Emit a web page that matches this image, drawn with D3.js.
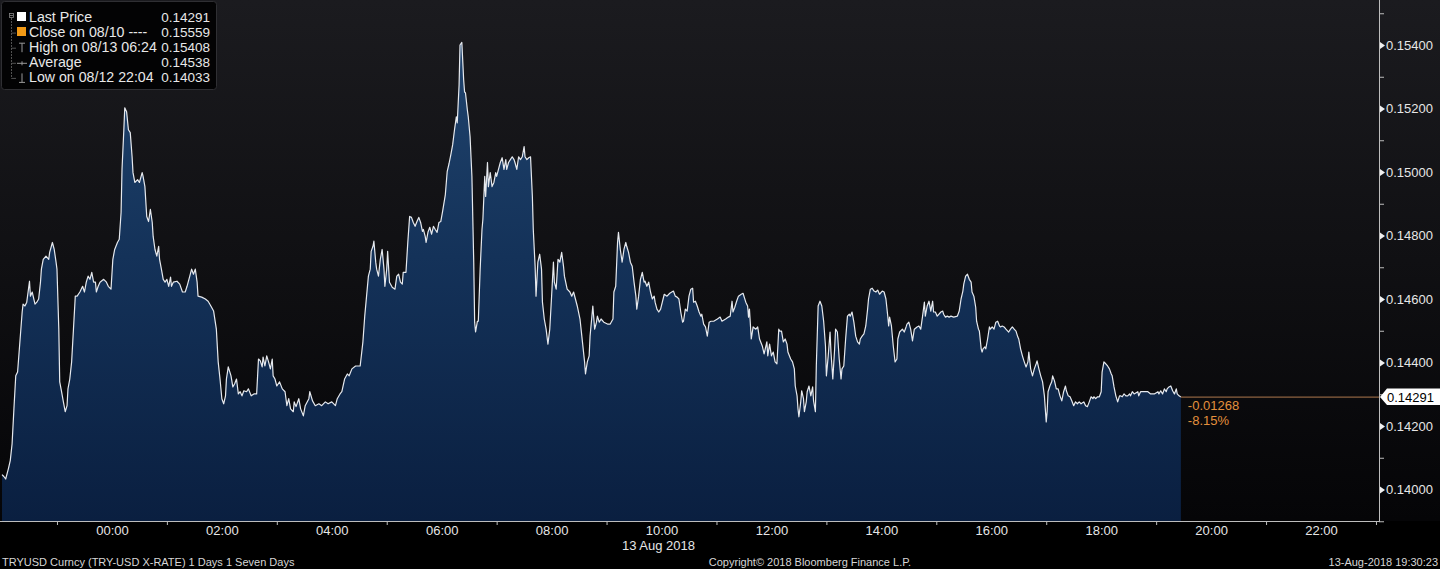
<!DOCTYPE html>
<html><head><meta charset="utf-8">
<script src="https://cdn.jsdelivr.net/npm/d3@7/dist/d3.min.js"></script>
<style>html,body{margin:0;padding:0;background:#000;overflow:hidden}text{font-family:"Liberation Sans",Arial,sans-serif}</style>
</head><body>
<svg id="c" width="1440" height="569"></svg>
<script>
// minutes after 2018-08-12 22:00 (local), TRYUSD price
const minutes = [0,2,4,7,9,11,13,15,17,22,23,25,27,30,31,33,34,36,38,40,42,43,45,48,51,52,55,57,59,60,62,63,65,67,69,71,72,74,76,78,80,82,85,88,90,92,94,96,98,100,102,103,105,107,111,114,116,119,121,123,126,128,130,131,133,134,136,138,140,142,143,145,148,150,153,154,156,158,160,162,164,165,167,169,171,172,174,176,178,180,182,184,185,187,191,194,197,200,202,205,207,209,211,213,214,218,222,225,228,231,234,236,238,240,242,244,245,247,250,252,254,256,258,260,262,264,267,269,272,275,278,280,282,284,285,287,289,291,293,295,296,298,300,303,306,309,311,313,315,318,319,321,324,326,329,331,335,336,339,342,346,349,353,356,360,364,366,369,371,374,377,379,382,386,391,394,396,398,400,402,403,405,406,408,409,411,413,415,417,418,420,421,423,426,429,431,433,435,437,438,441,443,445,447,449,451,453,455,457,459,460,462,463,465,467,469,471,473,475,477,479,481,484,486,488,490,492,494,496,497,499,500,502,504,505,506,508,509,511,513,515,516,517,519,520,522,524,525,527,528,530,531,533,535,537,539,540,542,544,546,548,550,551,553,555,557,559,560,562,564,566,568,570,571,573,575,577,579,580,582,583,585,587,589,590,592,594,596,598,600,602,603,605,607,609,611,613,614,617,620,622,624,626,628,631,633,636,637,639,641,642,644,645,647,649,650,652,654,657,661,664,667,668,670,672,673,675,677,679,681,682,684,686,688,690,692,693,695,697,699,701,702,704,706,708,710,712,713,715,717,719,723,726,729,733,735,737,739,741,743,744,746,748,750,752,754,755,757,759,761,763,764,766,768,770,772,774,777,781,784,786,790,793,795,797,798,800,802,804,807,809,812,814,815,816,818,820,823,825,827,830,832,835,836,838,840,842,844,846,848,849,851,853,855,857,858,861,863,865,866,868,869,870,872,873,875,876,878,879,881,883,885,886,888,889,891,893,895,897,899,900,902,904,905,907,909,910,912,914,916,917,919,921,923,925,926,928,930,932,934,936,937,939,941,943,945,946,948,950,952,954,956,958,961,963,965,967,968,969,971,973,975,977,978,980,983,985,987,988,990,992,994,996,999,1001,1003,1005,1007,1008,1010,1012,1014,1016,1017,1019,1021,1025,1027,1028,1030,1032,1034,1036,1039,1043,1045,1047,1049,1050,1052,1054,1056,1058,1059,1061,1063,1064,1066,1067,1069,1070,1071,1073,1074,1076,1078,1079,1081,1083,1085,1087,1089,1090,1092,1094,1096,1098,1099,1101,1103,1105,1107,1109,1110,1112,1114,1116,1118,1120,1121,1123,1125,1127,1129,1130,1132,1134,1136,1138,1140,1141,1142,1144,1146,1147,1149,1151,1153,1155,1157,1159,1161,1162,1164,1166,1168,1170,1172,1174,1176,1178,1181,1183,1185,1187,1189,1191,1192,1194,1196,1198,1200,1201,1203,1205,1207,1209,1211,1212,1214,1216,1218,1220,1221,1223,1225,1227,1229,1231,1232,1234,1236,1240,1241,1243,1247,1251,1254,1258,1262,1263,1265,1267,1269,1271,1272,1274,1276,1278,1280,1282,1283,1285,1287];
const prices = [0.14047,0.14041,0.14033,0.14066,0.14091,0.14144,0.14254,0.14358,0.14370,0.14559,0.14584,0.14578,0.14590,0.14656,0.14609,0.14622,0.14609,0.14584,0.14590,0.14600,0.14653,0.14694,0.14725,0.14735,0.14725,0.14747,0.14778,0.14756,0.14716,0.14694,0.14505,0.14339,0.14308,0.14276,0.14245,0.14264,0.14317,0.14348,0.14402,0.14505,0.14609,0.14609,0.14622,0.14640,0.14622,0.14653,0.14672,0.14662,0.14684,0.14653,0.14653,0.14622,0.14640,0.14653,0.14662,0.14653,0.14640,0.14631,0.14725,0.14756,0.14778,0.14788,0.14873,0.15008,0.15133,0.15202,0.15190,0.15133,0.15124,0.15048,0.14998,0.14967,0.14976,0.14967,0.14998,0.14986,0.14954,0.14860,0.14844,0.14882,0.14841,0.14797,0.14756,0.14735,0.14766,0.14725,0.14694,0.14662,0.14653,0.14662,0.14640,0.14669,0.14640,0.14653,0.14656,0.14647,0.14622,0.14622,0.14640,0.14672,0.14694,0.14678,0.14694,0.14653,0.14609,0.14606,0.14600,0.14593,0.14578,0.14562,0.14505,0.14402,0.14348,0.14286,0.14270,0.14295,0.14348,0.14386,0.14358,0.14323,0.14333,0.14348,0.14301,0.14308,0.14295,0.14311,0.14308,0.14317,0.14295,0.14301,0.14301,0.14411,0.14405,0.14386,0.14417,0.14389,0.14421,0.14402,0.14380,0.14411,0.14358,0.14348,0.14326,0.14339,0.14317,0.14308,0.14264,0.14286,0.14254,0.14245,0.14276,0.14261,0.14286,0.14254,0.14232,0.14264,0.14286,0.14308,0.14279,0.14264,0.14270,0.14264,0.14276,0.14270,0.14276,0.14264,0.14286,0.14301,0.14308,0.14348,0.14364,0.14358,0.14380,0.14389,0.14389,0.14465,0.14546,0.14609,0.14672,0.14694,0.14750,0.14766,0.14782,0.14716,0.14694,0.14672,0.14725,0.14756,0.14694,0.14640,0.14694,0.14750,0.14653,0.14637,0.14631,0.14672,0.14678,0.14653,0.14647,0.14684,0.14684,0.14778,0.14860,0.14857,0.14841,0.14829,0.14844,0.14857,0.14841,0.14813,0.14819,0.14797,0.14778,0.14810,0.14826,0.14804,0.14829,0.14819,0.14810,0.14841,0.14844,0.14876,0.14929,0.15001,0.15026,0.15055,0.15086,0.15133,0.15174,0.15155,0.15274,0.15400,0.15408,0.15290,0.15252,0.15249,0.15196,0.15174,0.15111,0.14986,0.14716,0.14527,0.14496,0.14530,0.14530,0.14694,0.14819,0.14851,0.14986,0.14923,0.15030,0.14954,0.14998,0.14954,0.14967,0.14998,0.14986,0.15008,0.15030,0.15045,0.15008,0.15039,0.15008,0.15030,0.15039,0.15048,0.15039,0.15030,0.15008,0.15048,0.15039,0.15048,0.15080,0.15048,0.15039,0.15045,0.15048,0.14923,0.14819,0.14703,0.14609,0.14716,0.14741,0.14694,0.14590,0.14537,0.14505,0.14458,0.14505,0.14609,0.14716,0.14653,0.14631,0.14725,0.14716,0.14747,0.14703,0.14672,0.14631,0.14622,0.14609,0.14622,0.14600,0.14578,0.14537,0.14483,0.14402,0.14364,0.14402,0.14421,0.14483,0.14546,0.14578,0.14505,0.14527,0.14546,0.14527,0.14537,0.14527,0.14521,0.14521,0.14537,0.14622,0.14640,0.14778,0.14810,0.14756,0.14716,0.14756,0.14778,0.14766,0.14747,0.14716,0.14703,0.14653,0.14609,0.14568,0.14609,0.14662,0.14684,0.14653,0.14656,0.14640,0.14653,0.14622,0.14600,0.14609,0.14590,0.14568,0.14559,0.14568,0.14615,0.14609,0.14618,0.14625,0.14609,0.14606,0.14600,0.14559,0.14527,0.14530,0.14568,0.14562,0.14609,0.14631,0.14634,0.14590,0.14593,0.14578,0.14559,0.14546,0.14552,0.14521,0.14512,0.14483,0.14527,0.14530,0.14530,0.14537,0.14543,0.14530,0.14537,0.14543,0.14546,0.14593,0.14559,0.14574,0.14593,0.14609,0.14615,0.14618,0.14590,0.14578,0.14543,0.14568,0.14474,0.14512,0.14505,0.14512,0.14474,0.14452,0.14427,0.14465,0.14421,0.14458,0.14421,0.14433,0.14402,0.14396,0.14505,0.14499,0.14499,0.14465,0.14474,0.14458,0.14433,0.14411,0.14402,0.14380,0.14326,0.14295,0.14254,0.14229,0.14276,0.14311,0.14286,0.14245,0.14276,0.14308,0.14326,0.14295,0.14323,0.14279,0.14245,0.14389,0.14578,0.14593,0.14578,0.14530,0.14452,0.14358,0.14421,0.14496,0.14433,0.14348,0.14443,0.14505,0.14496,0.14411,0.14348,0.14380,0.14389,0.14474,0.14546,0.14552,0.14546,0.14559,0.14527,0.14483,0.14465,0.14458,0.14474,0.14483,0.14490,0.14515,0.14568,0.14600,0.14631,0.14634,0.14625,0.14622,0.14628,0.14615,0.14625,0.14622,0.14600,0.14546,0.14515,0.14543,0.14515,0.14452,0.14402,0.14411,0.14474,0.14496,0.14505,0.14496,0.14512,0.14521,0.14527,0.14505,0.14468,0.14505,0.14512,0.14515,0.14505,0.14546,0.14590,0.14546,0.14578,0.14593,0.14562,0.14593,0.14559,0.14559,0.14546,0.14559,0.14562,0.14552,0.14543,0.14546,0.14543,0.14546,0.14543,0.14546,0.14562,0.14600,0.14625,0.14647,0.14672,0.14678,0.14662,0.14653,0.14622,0.14609,0.14574,0.14530,0.14505,0.14499,0.14443,0.14433,0.14443,0.14449,0.14443,0.14474,0.14512,0.14505,0.14512,0.14505,0.14527,0.14530,0.14515,0.14512,0.14515,0.14512,0.14505,0.14499,0.14496,0.14505,0.14512,0.14505,0.14499,0.14480,0.14474,0.14443,0.14421,0.14402,0.14386,0.14402,0.14433,0.14380,0.14358,0.14380,0.14396,0.14405,0.14380,0.14358,0.14339,0.14295,0.14213,0.14245,0.14308,0.14326,0.14339,0.14358,0.14342,0.14317,0.14317,0.14295,0.14279,0.14308,0.14326,0.14311,0.14295,0.14292,0.14279,0.14264,0.14276,0.14270,0.14276,0.14270,0.14276,0.14264,0.14261,0.14276,0.14292,0.14286,0.14292,0.14286,0.14292,0.14292,0.14308,0.14370,0.14402,0.14396,0.14389,0.14380,0.14364,0.14358,0.14323,0.14295,0.14276,0.14295,0.14295,0.14292,0.14301,0.14295,0.14295,0.14301,0.14295,0.14308,0.14301,0.14308,0.14295,0.14308,0.14308,0.14308,0.14301,0.14301,0.14308,0.14301,0.14311,0.14301,0.14317,0.14308,0.14317,0.14323,0.14326,0.14311,0.14301,0.14317,0.14301,0.14295,0.14291];

const majorTicks = [0.140,0.142,0.144,0.146,0.148,0.150,0.152,0.154];
const minorTicks = [0.139,0.141,0.143,0.145,0.147,0.149,0.151,0.153,0.155];
const legendLabels = ["Last Price","Close on 08/10 ----","High on 08/13 06:24","Average","Low on 08/12 22:04"];
const legendValues = ["0.14291","0.15559","0.15408","0.14538","0.14033"];
const lastPrice = 0.14291;
const changeTexts = ["-0.01268","-8.15%"];
const dateLabel = "13 Aug 2018";
const footerLeft = "TRYUSD Curncy (TRY-USD X-RATE) 1 Days 1 Seven Days";
const footerMid = "Copyright\u00A9 2018 Bloomberg Finance L.P.";
const footerRight = "13-Aug-2018 19:30:23";

const W = 1440, H = 569;
const plotRight = 1379, plotBottom = 521;
const start = new Date(2018, 7, 12, 22, 0, 0);
const addMin = (d, m) => new Date(d.getTime() + m * 60000);
const data = minutes.map((m, i) => ({ date: addMin(start, m), price: prices[i] }));

const x = d3.scaleTime().domain([addMin(start, -2.2), addMin(start, 1503.3)]).range([0, plotRight]);
const y = d3.scaleLinear().domain([0.140, 0.154]).range([489.5, 45]);

const svg = d3.select("#c");
const defs = svg.append("defs");
const bg = defs.append("linearGradient").attr("id", "bg").attr("x1", 0).attr("y1", 0).attr("x2", 0).attr("y2", 1);
bg.append("stop").attr("offset", 0).attr("stop-color", "#1b1b1f");
bg.append("stop").attr("offset", 1).attr("stop-color", "#050507");
const ag = defs.append("linearGradient").attr("id", "ag").attr("gradientUnits", "userSpaceOnUse")
  .attr("x1", 0).attr("y1", 40).attr("x2", 0).attr("y2", plotBottom);
ag.append("stop").attr("offset", 0).attr("stop-color", "#20446e");
ag.append("stop").attr("offset", 0.45).attr("stop-color", "#143259");
ag.append("stop").attr("offset", 1).attr("stop-color", "#0a1f40");

svg.append("rect").attr("width", W).attr("height", H).attr("fill", "#000");
svg.append("rect").attr("width", W).attr("height", plotBottom).attr("fill", "url(#bg)");

// area + line
svg.append("path").datum(data).attr("fill", "url(#ag)")
  .attr("d", d3.area().x(d => x(d.date)).y0(plotBottom).y1(d => y(d.price)));
svg.append("path").datum(data).attr("fill", "none").attr("stroke", "#e6e9ee").attr("stroke-width", 1.2)
  .attr("stroke-linejoin", "round")
  .attr("d", d3.line().x(d => x(d.date)).y(d => y(d.price)));

// last price line
const lastX = x(data[data.length - 1].date);
svg.append("line").attr("x1", lastX).attr("x2", plotRight).attr("y1", y(lastPrice)).attr("y2", y(lastPrice))
  .attr("stroke", "#8d6240").attr("stroke-width", 1.2);
changeTexts.forEach((t, i) => {
  svg.append("text").attr("x", lastX + 7).attr("y", y(lastPrice) + 13 + i * 14.5)
    .attr("fill", "#e3903d").attr("font-size", 13).text(t);
});

// axes lines
svg.append("line").attr("x1", 0).attr("x2", plotRight).attr("y1", plotBottom + 0.5).attr("y2", plotBottom + 0.5)
  .attr("stroke", "#bdbdbd").attr("stroke-width", 1);
svg.append("line").attr("x1", plotRight + 0.5).attr("x2", plotRight + 0.5).attr("y1", 0).attr("y2", plotBottom + 1)
  .attr("stroke", "#bdbdbd").attr("stroke-width", 1);

// right axis
const yAxis = d3.axisRight(y).tickValues(majorTicks).tickFormat(d3.format(".5f")).tickSize(0).tickPadding(7);
const ya = svg.append("g").attr("transform", `translate(${plotRight},0)`).call(yAxis);
ya.select(".domain").remove();
ya.selectAll("text").attr("fill", "#e6e6e6").attr("font-size", 13).attr("font-family", "Liberation Sans, Arial, sans-serif");
ya.selectAll(".tick").append("path").attr("d", "M1,-3.5L6,0L1,3.5Z").attr("fill", "#f0f0f0");
const yMinor = d3.axisRight(y).tickValues(minorTicks).tickFormat("").tickSize(5);
const ym = svg.append("g").attr("transform", `translate(${plotRight},0)`).call(yMinor);
ym.select(".domain").remove();
ym.selectAll("line").attr("stroke", "#bdbdbd");

// bottom axis
const evenHours = d3.timeHour.range(new Date(2018, 7, 13, 0), new Date(2018, 7, 13, 23)).filter(d => d.getHours() % 2 === 0);
const oddHours = d3.timeHour.range(new Date(2018, 7, 12, 23), new Date(2018, 7, 13, 23, 30)).filter(d => d.getHours() % 2 === 1);
const xAxis = d3.axisBottom(x).tickValues(evenHours).tickFormat(d3.timeFormat("%H:%M")).tickSize(0).tickPadding(5);
const xa = svg.append("g").attr("transform", `translate(0,${plotBottom})`).call(xAxis);
xa.select(".domain").remove();
xa.selectAll("text").attr("fill", "#e6e6e6").attr("font-size", 13).attr("font-family", "Liberation Sans, Arial, sans-serif");
const xMinor = d3.axisBottom(x).tickValues(oddHours).tickFormat("").tickSize(4);
const xm = svg.append("g").attr("transform", `translate(0,${plotBottom})`).call(xMinor);
xm.select(".domain").remove();
xm.selectAll("line").attr("stroke", "#bdbdbd");
svg.append("text").attr("x", x(new Date(2018, 7, 13, 10)) - 3).attr("y", 550).attr("text-anchor", "middle")
  .attr("fill", "#e6e6e6").attr("font-size", 13).text(dateLabel);

// last price tag
const ly = y(lastPrice);
svg.append("path").attr("d", `M${plotRight + 1},${ly} L${plotRight + 8},${ly - 8.5} L${W},${ly - 8.5} L${W},${ly + 8} L${plotRight + 8},${ly + 8} Z`)
  .attr("fill", "#ffffff");
svg.append("text").attr("x", plotRight + 8).attr("y", ly + 4.5).attr("fill", "#000").attr("font-size", 13)
  .text(d3.format(".5f")(lastPrice));

// legend
const lg = svg.append("g");
lg.append("rect").attr("x", 1.5).attr("y", 1.5).attr("width", 215).attr("height", 88).attr("rx", 3)
  .attr("fill", "#030304").attr("stroke", "#2f2f33");
const rowY = i => 22 + i * 15.1;
// tree connector
lg.append("rect").attr("x", 9.5).attr("y", 13.5).attr("width", 4).attr("height", 4).attr("fill", "none").attr("stroke", "#888").attr("stroke-width", 0.8);
lg.append("line").attr("x1", 10).attr("x2", 13).attr("y1", 15.5).attr("y2", 15.5).attr("stroke", "#888").attr("stroke-width", 0.8);
lg.append("line").attr("x1", 11.5).attr("x2", 11.5).attr("y1", 18).attr("y2", rowY(4) - 4).attr("stroke", "#666").attr("stroke-width", 0.8).attr("stroke-dasharray", "2,1");
[1, 2, 3, 4].forEach(i => {
  lg.append("line").attr("x1", 11.5).attr("x2", 16).attr("y1", rowY(i) - 4).attr("y2", rowY(i) - 4).attr("stroke", "#666").attr("stroke-width", 0.8);
});
lg.append("rect").attr("x", 17).attr("y", 12).attr("width", 9).attr("height", 9).attr("fill", "#ffffff");
lg.append("rect").attr("x", 17).attr("y", 27).attr("width", 9).attr("height", 9).attr("fill", "#f29a16");
// high glyph
lg.append("path").attr("d", `M19,${rowY(2) - 9}H25M22,${rowY(2) - 9}V${rowY(2)}`).attr("stroke", "#999").attr("stroke-width", 1).attr("fill", "none");
// average glyph
lg.append("path").attr("d", `M17,${rowY(3) - 4}H27M22,${rowY(3) - 6}V${rowY(3) - 2}`).attr("stroke", "#999").attr("stroke-width", 1).attr("fill", "none");
// low glyph
lg.append("path").attr("d", `M19,${rowY(4)}H25M22,${rowY(4) - 9}V${rowY(4)}`).attr("stroke", "#999").attr("stroke-width", 1).attr("fill", "none");
legendLabels.forEach((t, i) => {
  lg.append("text").attr("x", 29).attr("y", rowY(i)).attr("fill", "#e8e8e8").attr("font-size", 14.2).text(t);
  lg.append("text").attr("x", 210).attr("y", rowY(i)).attr("text-anchor", "end").attr("fill", "#e8e8e8").attr("font-size", 13.5).text(legendValues[i]);
});

// footer
svg.append("text").attr("x", 2).attr("y", 566).attr("fill", "#d6d6d6").attr("font-size", 11).text(footerLeft);
svg.append("text").attr("x", 810).attr("y", 566).attr("text-anchor", "middle").attr("fill", "#d6d6d6").attr("font-size", 11).text(footerMid);
svg.append("text").attr("x", 1438).attr("y", 566).attr("text-anchor", "end").attr("fill", "#d6d6d6").attr("font-size", 11).text(footerRight);
</script>
</body></html>
